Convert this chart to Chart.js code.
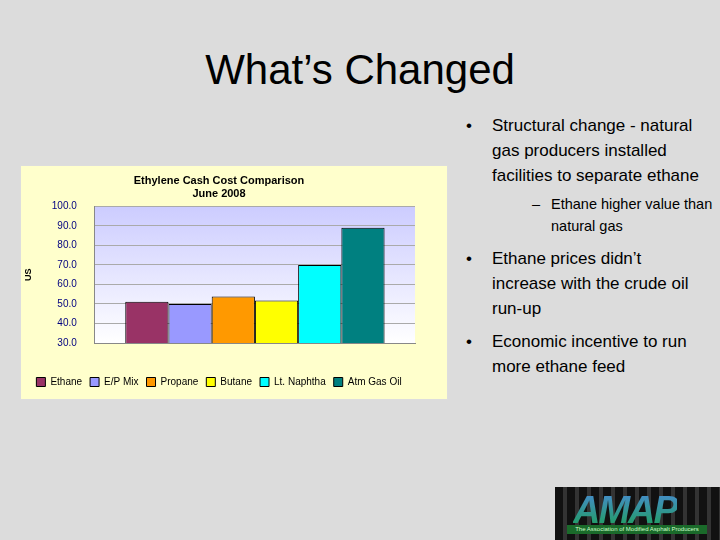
<!DOCTYPE html>
<html><head><meta charset="utf-8">
<script src="https://cdn.jsdelivr.net/npm/chart.js@4/dist/chart.umd.min.js"></script>
<style>
body{margin:0;width:720px;height:540px;background:#dcdcdc;font-family:"Liberation Sans",Arial,sans-serif;position:relative;overflow:hidden}
#title{position:absolute;left:0;width:720px;top:46px;text-align:center;font-size:42px;color:#000}
.b{position:absolute;font-size:17px;line-height:25px;color:#000}
.sub{position:absolute;font-size:14.5px;line-height:22px;color:#000}
#box{position:absolute;left:20px;top:165px;width:428px;height:235px;background:#ffffcc;border:1px solid #ddd;box-sizing:border-box}
#logo{position:absolute;left:555px;top:487px;width:165px;height:53px;background:repeating-linear-gradient(90deg,#111 0 8px,#333 8px 12px);}
#logo div{position:absolute;left:18px;top:2px;font:italic bold 38px "Liberation Sans";letter-spacing:-2px;background:linear-gradient(#4a8ad8,#1aa050);-webkit-background-clip:text;color:transparent}
#logo p{position:absolute;left:12px;top:38px;margin:0;width:140px;height:9px;background:#1a6a2a;color:#cfc;font-size:6px;line-height:9px;text-align:center}
</style></head><body>
<div id="title">What’s Changed</div>
<div class="b" style="left:466px;top:113px">•</div>
<div class="b" style="left:492px;top:113px;width:222px">Structural change - natural gas producers installed facilities to separate ethane</div>
<div class="sub" style="left:532px;top:193px">–</div>
<div class="sub" style="left:551px;top:193px;width:168px">Ethane higher value than natural gas</div>
<div class="b" style="left:466px;top:246px">•</div>
<div class="b" style="left:492px;top:246px;width:212px">Ethane prices didn’t increase with the crude oil run-up</div>
<div class="b" style="left:466px;top:329px">•</div>
<div class="b" style="left:492px;top:329px;width:212px">Economic incentive to run more ethane feed</div>
<div id="box"><canvas id="c" width="428" height="235"></canvas></div>
<div id="logo"><div>AMAP</div><p>The Association of Modified Asphalt Producers</p></div>
<script>
const categories=[""];
const seriesNames=["Ethane","E/P Mix","Propane","Butane","Lt. Naphtha","Atm Gas Oil"];
const seriesValues=[51.2,50.0,53.8,51.8,70.0,89.0];
const seriesColors=["#993366","#9999ff","#ff9900","#ffff00","#00ffff","#008080"];
const yTicks=[30,40,50,60,70,80,90,100];
const bgPlugin={id:'bg',beforeDraw(ch){const a=ch.chartArea,c=ch.ctx;const g=c.createLinearGradient(0,a.top,0,a.bottom);g.addColorStop(0,'#ccccff');g.addColorStop(1,'#ffffff');c.save();c.fillStyle=g;c.fillRect(a.left,a.top,a.right-a.left,a.bottom-a.top);c.restore();}};
new Chart(document.getElementById('c'),{type:'bar',
data:{labels:categories,datasets:seriesNames.map((n,i)=>({label:n,data:[seriesValues[i]],backgroundColor:seriesColors[i],borderColor:'#000',borderWidth:1,categoryPercentage:0.81,barPercentage:1}))},
options:{responsive:false,animation:false,devicePixelRatio:1,
layout:{padding:{left:2,right:34,top:0,bottom:4}},
plugins:{title:{display:true,text:['Ethylene Cash Cost Comparison','June 2008'],color:'#000',font:{family:'Liberation Sans',size:11,weight:'bold'},padding:{top:8,bottom:6}},
legend:{position:'bottom',labels:{boxWidth:9,boxHeight:9,padding:8,color:'#000',font:{family:'Liberation Sans',size:10}}},tooltip:{enabled:false}},
scales:{x:{grid:{display:false},ticks:{display:false},border:{color:'#888'},title:{display:true,text:' ',font:{size:10},padding:{top:3,bottom:3}}},
y:{min:30,max:100,afterBuildTicks(ax){ax.ticks=yTicks.map(v=>({value:v}));},ticks:{color:'#000080',font:{family:'Liberation Sans',size:10},callback:v=>v.toFixed(1),padding:18},grid:{color:'#aaaaaa',drawTicks:false},border:{color:'#888'},title:{display:true,text:'US',color:'#000',font:{size:9,weight:'bold'},padding:0}}}},
plugins:[bgPlugin]});
</script></body></html>
